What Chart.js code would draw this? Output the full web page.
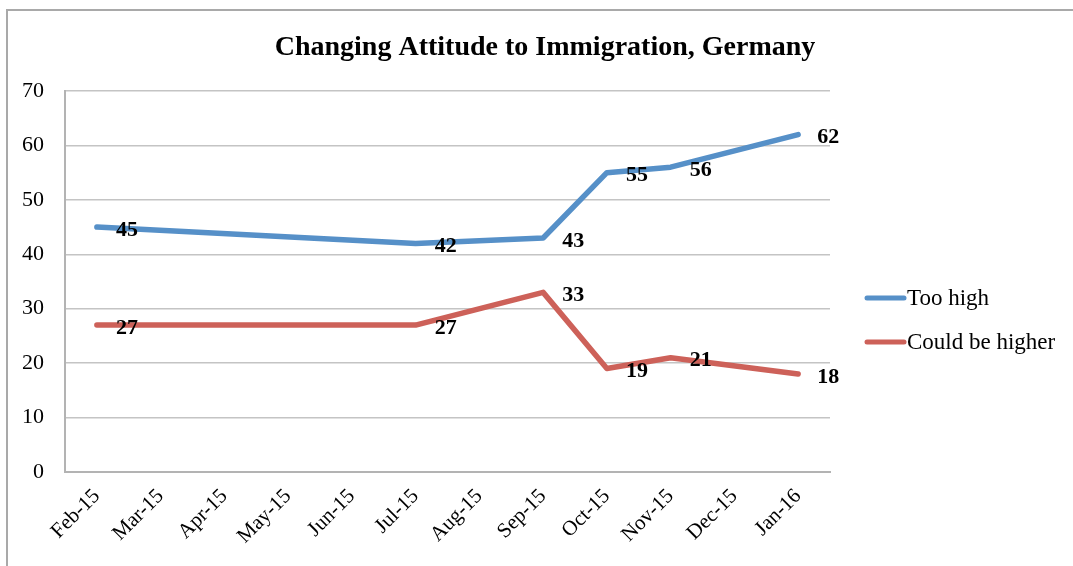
<!DOCTYPE html>
<html>
<head>
<meta charset="utf-8">
<script src="https://cdn.jsdelivr.net/npm/chart.js@4"></script>
<style>
  html, body { margin: 0; padding: 0; background: #fff; }
  #wrap { position: relative; width: 1073px; height: 566px; overflow: hidden; }
  #frame { position: absolute; left: 6px; top: 9px; width: 1200px; height: 700px; border: 2px solid #a9a9a9; }
  canvas { position: absolute; left: 0; top: 0; }
</style>
</head>
<body>
<div id="wrap">
  <div id="frame"></div>
  <canvas id="chart" width="1073" height="566"></canvas>
</div>
<script>
const months = ['Feb-15', 'Mar-15', 'Apr-15', 'May-15', 'Jun-15', 'Jul-15',
                'Aug-15', 'Sep-15', 'Oct-15', 'Nov-15', 'Dec-15', 'Jan-16'];
const tooHigh = [45, null, null, null, null, 42, null, 43, 55, 56, null, 62];
const couldBeHigher = [27, null, null, null, null, 27, null, 33, 19, 21, null, 18];
const yTicks = [0, 10, 20, 30, 40, 50, 60, 70];
const chartTitle = 'Changing Attitude to Immigration, Germany';

const serif = '"Liberation Serif", "Times New Roman", serif';

// title is centred on the whole frame, not on the plot, so draw it here
const frameTitle = {
    id: 'frameTitle',
    afterDraw(chart) {
        const c = chart.ctx;
        c.save();
        c.font = 'bold 28px ' + serif;
        c.fillStyle = '#000';
        c.textAlign = 'center';
        c.textBaseline = 'middle';
        c.fillText(chartTitle, 545, 48);
        c.restore();
    }
};

// value labels next to each point, bold, like the Excel original
const valueLabels = {
    id: 'valueLabels',
    afterDatasetsDraw(chart) {
        const c = chart.ctx;
        c.save();
        c.font = 'bold 22px ' + serif;
        c.fillStyle = '#000';
        c.textAlign = 'left';
        c.textBaseline = 'middle';
        chart.data.datasets.forEach((ds, i) => {
            chart.getDatasetMeta(i).data.forEach((pt, j) => {
                if (ds.data[j] == null) return;
                c.fillText(ds.data[j], pt.x + 19, pt.y + 3);
            });
        });
        c.restore();
    }
};

// legend on the right, line sample + label
const sideLegend = {
    id: 'sideLegend',
    afterDraw(chart) {
        const c = chart.ctx;
        c.save();
        c.font = '23px ' + serif;
        c.textBaseline = 'middle';
        c.textAlign = 'left';
        chart.data.datasets.forEach((ds, i) => {
            const y = 298 + i * 44;
            c.strokeStyle = ds.borderColor;
            c.lineWidth = 5;
            c.lineCap = 'round';
            c.beginPath();
            c.moveTo(867, y);
            c.lineTo(904, y);
            c.stroke();
            c.fillStyle = '#000';
            c.fillText(ds.label, 907, y + 1);
        });
        c.restore();
    }
};

new Chart(document.getElementById('chart').getContext('2d'), {
    type: 'line',
    data: {
        labels: months,
        datasets: [{
            label: 'Too high',
            data: tooHigh,
            borderColor: '#5690c8',
            backgroundColor: '#5690c8',
            borderWidth: 5.5,
            borderJoinStyle: 'round',
            borderCapStyle: 'round',
            pointRadius: 0,
            spanGaps: true,
            tension: 0
        }, {
            label: 'Could be higher',
            data: couldBeHigher,
            borderColor: '#cd6159',
            backgroundColor: '#cd6159',
            borderWidth: 5.5,
            borderJoinStyle: 'round',
            borderCapStyle: 'round',
            pointRadius: 0,
            spanGaps: true,
            tension: 0
        }]
    },
    options: {
        responsive: false,
        animation: false,
        layout: { padding: { left: 7, right: 243, top: 91, bottom: 4 } },
        plugins: {
            legend: { display: false },
            tooltip: { enabled: false },
            title: { display: false }
        },
        scales: {
            x: {
                offset: true,
                grid: { display: false, drawTicks: false },
                border: { color: '#b3b3b3', width: 2 },
                ticks: {
                    color: '#000',
                    font: { family: serif, size: 21 },
                    minRotation: 45,
                    maxRotation: 45,
                    padding: 12,
                    autoSkip: false
                },
                afterFit(scale) { scale.height = 90; }
            },
            y: {
                min: 0,
                max: 70,
                afterBuildTicks(scale) { scale.ticks = yTicks.map(v => ({ value: v })); },
                grid: { color: '#c4c4c4', lineWidth: 1.5, drawTicks: false },
                border: { color: '#b3b3b3', width: 2 },
                ticks: {
                    color: '#000',
                    font: { family: serif, size: 22 },
                    padding: 21
                },
                afterFit(scale) { scale.width = 58; }
            }
        }
    },
    plugins: [valueLabels, sideLegend, frameTitle]
});
</script>
</body>
</html>
